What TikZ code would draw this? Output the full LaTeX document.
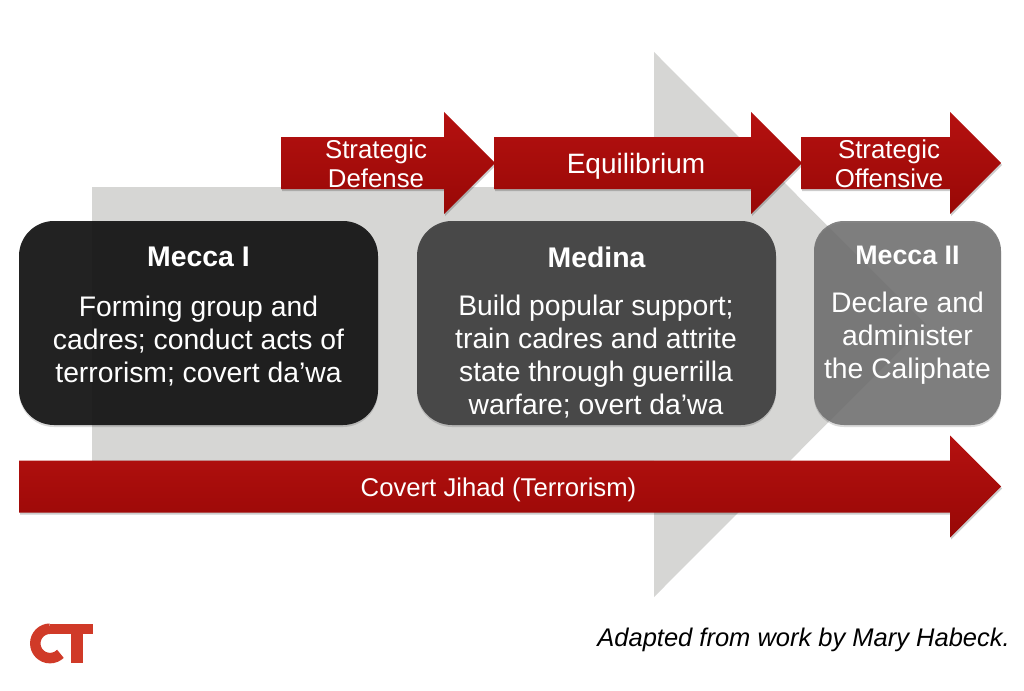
\documentclass[tikz,border=0pt]{standalone}
\usepackage{fontspec}
\setmainfont{Liberation Sans}
\usetikzlibrary{shadings}
\definecolor{redtop}{HTML}{B51110}
\definecolor{redbot}{HTML}{980806}
\definecolor{ghost}{HTML}{D6D6D4}
\definecolor{logored}{HTML}{D03A28}
\tikzset{
  redarrow/.style={top color=redtop,bottom color=redbot,draw=none},
  dropshade/.style={fill=black,fill opacity=0.2,draw=none},
  arrowlabel/.style={text=white,align=center,inner sep=0pt,font=\fontsize{25.8}{30}\selectfont},
  boxhead/.style={text=white,align=center,inner sep=0pt,font=\fontsize{28.4}{32}\selectfont\bfseries},
  boxbody/.style={text=white,align=center,inner sep=0pt,font=\fontsize{28.3}{33}\selectfont},
}
% horizontal block arrow: x start, x where the head begins, x tip, y centre
\newcommand{\blockarrow}[4]{%
  \path[dropshade] (#1+1,#4-24) -- (#2+1,#4-24) -- (#2+1,#4-49) -- (#3+1,#4+2) -- (#2+1,#4+53) -- (#2+1,#4+28) -- (#1+1,#4+28) -- cycle;
  \path[redarrow] (#1,#4-26) -- (#2,#4-26) -- (#2,#4-51) -- (#3,#4) -- (#2,#4+51) -- (#2,#4+26) -- (#1,#4+26) -- cycle;
}
\begin{document}
\begin{tikzpicture}[x=1pt,y=-1pt]
\useasboundingbox (0,0) rectangle (1024,690);
\fill[white] (0,0) rectangle (1024,690);

% large pale arrow behind everything
\fill[black!35,opacity=0.6] (654,461.5) -- (92,461.5) -- (92,460) -- (654,460) -- cycle;
\fill[ghost] (92,187) -- (654,187) -- (654,52) -- (926,324.5) -- (654,597) -- (654,460) -- (92,460) -- cycle;

% phase arrows
\blockarrow{281}{444}{495}{163}
\blockarrow{494}{751}{802}{163}
\blockarrow{801}{950}{1001}{163}
\blockarrow{19}{950}{1001}{486.5}

\node[arrowlabel] (defense) at (376,164) {Strategic\\[-0.5pt]Defense};
\node[arrowlabel,font=\fontsize{28}{30}\selectfont] (equilibrium) at (636,166.5) {Equilibrium};
\node[arrowlabel] (offensive) at (889,164) {Strategic\\[-0.5pt]Offensive};
\node[text=white,inner sep=0pt,font=\fontsize{25.7}{28}\selectfont] (jihad) at (498.5,490) {Covert Jihad (Terrorism)};

% stage boxes
\fill[black,opacity=0.14,rounded corners=35] (19,223) rectangle (378,427);
\fill[black,opacity=0.14,rounded corners=35] (417,223) rectangle (776,427);
\fill[black,opacity=0.14,rounded corners=30] (814,223) rectangle (1001,427);
\fill[fill=black!92,opacity=0.93,rounded corners=35] (19,221) rectangle (378,425);
\fill[fill=black!75,opacity=0.93,rounded corners=35] (417,221) rectangle (776,425);
\fill[fill=black!57,opacity=0.85,rounded corners=30] (814,221) rectangle (1001,425);

\node[boxhead] (meccaone) at (198.5,257) {Mecca I};
\node[boxbody] (meccaonetext) at (198.5,341) {Forming group and\\cadres; conduct acts of\\terrorism; covert da’wa};
\node[boxhead] (medina) at (596.5,257) {Medina};
\node[boxbody] (medinatext) at (596,357) {Build popular support;\\train cadres and attrite\\state through guerrilla\\warfare; overt da’wa};
\node[boxhead,font=\fontsize{26.8}{32}\selectfont\bfseries] (meccatwo) at (907.5,255) {Mecca II};
\node[boxbody] (meccatwotext) at (907.5,338) {Declare and\\administer\\the Caliphate};

% logo
\draw[logored,line width=10.5pt] (50,628.7) arc (-90:-315:14.7);
\fill[logored] (50,623.5) rectangle (93,634);
\fill[logored] (71,633) rectangle (82.5,663);

\node[inner sep=0pt,anchor=east,font=\fontsize{25.5}{28}\selectfont\itshape] (credit) at (1010,640) {Adapted from work by Mary Habeck.};
\end{tikzpicture}
\end{document}
